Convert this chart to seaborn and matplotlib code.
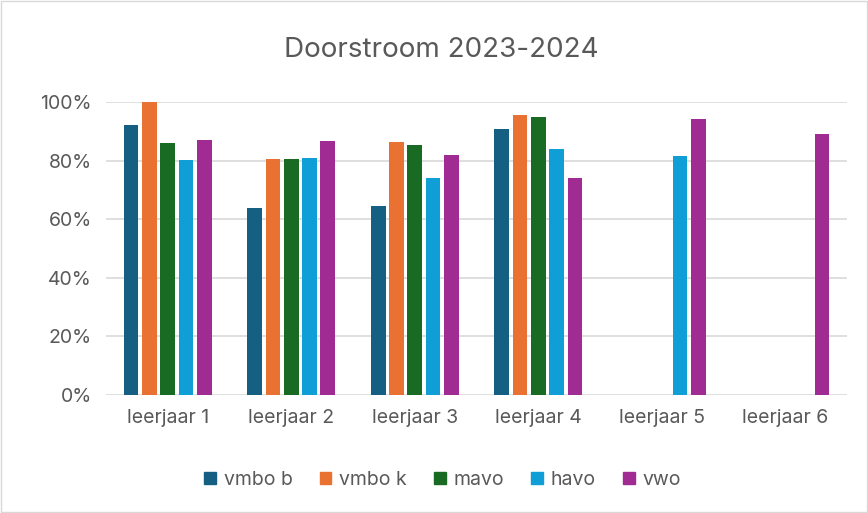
import matplotlib
matplotlib.use("Agg")
import matplotlib.pyplot as plt
import numpy as np
import pandas as pd
import seaborn as sns
from matplotlib.ticker import PercentFormatter

categories = ["leerjaar 1", "leerjaar 2", "leerjaar 3", "leerjaar 4", "leerjaar 5", "leerjaar 6"]
levels = ["vmbo b", "vmbo k", "mavo", "havo", "vwo"]

vmbo_b = [0.922, 0.639, 0.645, 0.907, np.nan, np.nan]
vmbo_k = [1.000, 0.806, 0.863, 0.956, np.nan, np.nan]
mavo = [0.859, 0.806, 0.854, 0.950, np.nan, np.nan]
havo = [0.801, 0.809, 0.741, 0.841, 0.815, np.nan]
vwo = [0.871, 0.867, 0.819, 0.741, 0.941, 0.890]

colors = ["#156082", "#E97132", "#196B24", "#0F9ED5", "#A02B93"]
TEXT = "#595959"

rows = []
for name, vals in zip(levels, [vmbo_b, vmbo_k, mavo, havo, vwo]):
    for cat, v in zip(categories, vals):
        rows.append({"leerjaar": cat, "niveau": name, "waarde": v})
df = pd.DataFrame(rows)

sns.set_style("white")
plt.rcParams['font.family'] = ['Inter', 'DejaVu Sans']

fig = plt.figure(figsize=(8.68, 5.13), dpi=100)
ax = fig.add_axes([0.122, 0.230, 0.854, 0.571])

sns.barplot(data=df, x="leerjaar", y="waarde", hue="niveau", order=categories,
            hue_order=levels, palette=colors, saturation=1, width=0.74, ax=ax, legend=True)

# shrink bars a bit for the gap between bars in a group
for p in ax.patches:
    w = p.get_width()
    if w > 0:
        p.set_x(p.get_x() + w * 0.1)
        p.set_width(w * 0.8)
        p.set_edgecolor("none")

ax.set_ylim(0, 1.0)
ax.set_yticks(np.arange(0, 1.01, 0.2))
ax.yaxis.set_major_formatter(PercentFormatter(1.0, decimals=0))
ax.grid(axis="y", color="#D9D9D9", linewidth=1.2)
ax.set_axisbelow(True)
for s in ax.spines.values():
    s.set_visible(False)
ax.tick_params(axis="both", length=0, colors=TEXT, labelsize=14)
ax.tick_params(axis="x", pad=10)
ax.tick_params(axis="y", pad=10)
ax.set_xlabel("")
ax.set_ylabel("")
ax.set_xlim(-0.5, 5.5)

ax.get_legend().remove()
handles = [plt.Rectangle((0, 0), 1, 1, color=c) for c in colors]
fig.legend(handles, levels, loc="center", bbox_to_anchor=(0.51, 0.064), ncol=5,
           frameon=False, fontsize=14, labelcolor=TEXT, handlelength=0.6,
           handleheight=0.6, handletextpad=0.4, columnspacing=1.4)

fig.text(0.508, 0.902, "Doorstroom 2023-2024", ha="center", va="center",
         fontsize=20, color=TEXT)

fig.patches.append(plt.Rectangle((0.001, 0.002), 0.998, 0.996, transform=fig.transFigure,
                                 fill=False, edgecolor="#D9D9D9", linewidth=1))

fig.savefig("out.png", dpi=100)
